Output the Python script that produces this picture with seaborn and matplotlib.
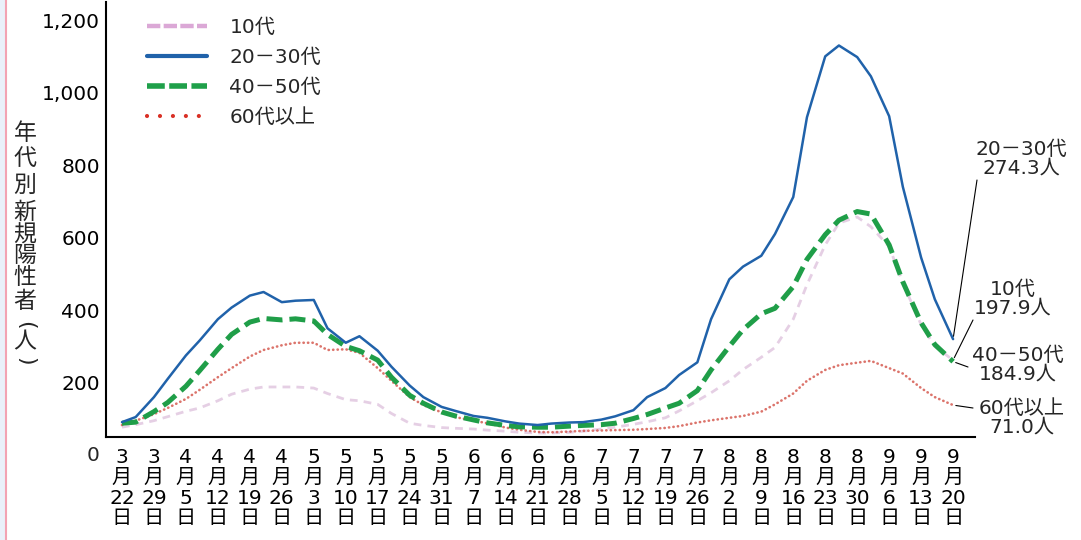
import pandas as pd
import matplotlib
matplotlib.use("Agg")
import matplotlib.pyplot as plt
import seaborn as sns
from matplotlib.lines import Line2D
from matplotlib.patches import Rectangle

# ---------------- data ----------------
dates = ["2021-03-22", "2021-03-25", "2021-03-29", "2021-04-01", "2021-04-05", "2021-04-08",
         "2021-04-12", "2021-04-15", "2021-04-19", "2021-04-22", "2021-04-26", "2021-04-29",
         "2021-05-03", "2021-05-06", "2021-05-10", "2021-05-13", "2021-05-17", "2021-05-20",
         "2021-05-24", "2021-05-27", "2021-05-31", "2021-06-03", "2021-06-07", "2021-06-10",
         "2021-06-14", "2021-06-17", "2021-06-21", "2021-06-24", "2021-06-28", "2021-07-01",
         "2021-07-05", "2021-07-08", "2021-07-12", "2021-07-15", "2021-07-19", "2021-07-22",
         "2021-07-26", "2021-07-29", "2021-08-02", "2021-08-05", "2021-08-09", "2021-08-12",
         "2021-08-16", "2021-08-19", "2021-08-23", "2021-08-26", "2021-08-30", "2021-09-02",
         "2021-09-06", "2021-09-09", "2021-09-13", "2021-09-16", "2021-09-20"]

teens = [77, 84, 95, 106, 121, 130, 150, 168, 182, 188, 188, 188, 185, 170, 153, 150, 140, 115,
         88, 82, 76, 74, 72, 69, 66, 63, 61, 61, 63, 66, 72, 77, 85, 92, 103, 122, 150, 172,
         205, 236, 270, 297, 375, 470, 580, 640, 657, 630, 575, 475, 360, 300, 262]
age20_30 = [91, 105, 160, 210, 275, 316, 375, 407, 440, 450, 422, 426, 428, 350, 310, 328, 288,
            244, 192, 160, 133, 122, 108, 103, 93, 87, 83, 87, 90, 91, 98, 107, 124, 160, 185,
            221, 256, 375, 485, 520, 550, 610, 712, 932, 1100, 1130, 1098, 1045, 935, 740, 545,
            430, 320]
age40_50 = [88, 91, 120, 145, 190, 233, 292, 333, 367, 377, 373, 376, 370, 333, 300, 288, 262,
            215, 165, 143, 119, 108, 97, 89, 82, 78, 77, 77, 80, 82, 84, 88, 101, 112, 130, 143,
            178, 235, 300, 346, 390, 405, 465, 540, 608, 648, 672, 665, 580, 478, 365, 305, 258]
age60plus = [83, 95, 113, 130, 155, 180, 215, 240, 272, 290, 303, 310, 310, 290, 292, 282, 240,
             205, 160, 138, 118, 105, 95, 88, 76, 70, 64, 63, 65, 67, 68, 69, 70, 72, 75, 80, 90,
             96, 103, 108, 120, 140, 170, 205, 235, 248, 255, 260, 240, 225, 185, 160, 138]

series_names = ["10代", "20－30代", "40－50代", "60代以上"]
end_labels = ["10代\n197.9人", "20－30代\n274.3人", "40－50代\n184.9人", "60代以上\n71.0人"]

tick_dates = ["2021-03-22", "2021-03-29", "2021-04-05", "2021-04-12", "2021-04-19", "2021-04-26",
              "2021-05-03", "2021-05-10", "2021-05-17", "2021-05-24", "2021-05-31", "2021-06-07",
              "2021-06-14", "2021-06-21", "2021-06-28", "2021-07-05", "2021-07-12", "2021-07-19",
              "2021-07-26", "2021-08-02", "2021-08-09", "2021-08-16", "2021-08-23", "2021-08-30",
              "2021-09-06", "2021-09-13", "2021-09-20"]
y_ticks = [200, 400, 600, 800, 1000, 1200]
y_ticklabels = ["200", "400", "600", "800", "1,000", "1,200"]
y_label_chars = ["年", "代", "別", "新", "規", "陽", "性", "者", "(", "人", ")"]

# ---------------- frame ----------------
sns.set_theme(style="white")
FAM = ["DejaVu Sans", "Noto Sans CJK JP"]
plt.rcParams["font.family"] = FAM
FS = 14.5

W, H = 1081, 540
fig = plt.figure(figsize=(W / 100, H / 100), dpi=100)
fig.patch.set_facecolor("white")
ax = fig.add_axes([106 / W, 1 - 437 / H, (975 - 106) / W, (437 - 2) / H])
ax.set_facecolor("white")

dt = pd.to_datetime(dates)
df = pd.DataFrame({"date": dt, series_names[0]: teens, series_names[1]: age20_30,
                   series_names[2]: age40_50, series_names[3]: age60plus})
long = df.melt(id_vars="date", var_name="series", value_name="value")

styles = {
    "10代": dict(color="#d5b0d3", linewidth=2.0, linestyle=(0, (2.8, 2.2)), alpha=0.6, zorder=2),
    "60代以上": dict(color="#d0453a", linewidth=1.9, linestyle=(0, (0.1, 1.6)), alpha=0.75,
                  dash_capstyle="round", zorder=3),
    "40－50代": dict(color="#1f9e48", linewidth=3.6, linestyle=(0, (3.2, 1.4)), zorder=4),
    "20－30代": dict(color="#2062aa", linewidth=1.8, linestyle="-", zorder=5),
}
for name in ["10代", "60代以上", "40－50代", "20－30代"]:
    sns.lineplot(data=long[long["series"] == name], x="date", y="value", ax=ax,
                 errorbar=None, legend=False, **styles[name])

t0 = pd.Timestamp(tick_dates[0])
ax.set_xlim(t0 - pd.Timedelta(days=3.5), t0 + pd.Timedelta(days=186.8))
ax.set_ylim(50, 1250)

td = pd.to_datetime(tick_dates)
ax.set_xticks(td)
ax.set_xticklabels([f"{d.month}\n月\n{d.day}\n日" for d in td], fontsize=FS, linespacing=1.08)
ax.set_yticks(y_ticks)
ax.set_yticklabels(y_ticklabels, fontsize=FS)
ax.tick_params(axis="x", length=0, pad=8, colors="black")
ax.tick_params(axis="y", length=0, pad=4.3, colors="black")
ax.set_xlabel("")
ax.set_ylabel("")
ax.text(-6 / 869, 0, "0", transform=ax.get_yaxis_transform(), ha="right", va="center",
        fontsize=FS, clip_on=False)

for s in ["top", "right"]:
    ax.spines[s].set_visible(False)
for s in ["left", "bottom"]:
    ax.spines[s].set_color("black")
    ax.spines[s].set_linewidth(1.5)
ax.grid(False)

# vertical y-label (upright stacked characters; parentheses turned sideways)
yl_pos = [134, 158, 185, 212, 235, 256, 278, 301, 325, 342, 361]
for ch, yy in zip(y_label_chars, yl_pos):
    if ch in "()":
        fig.text(25 / W, 1 - yy / H, ch, ha="center", va="center", fontsize=16,
                 rotation=-90, rotation_mode="anchor")
    else:
        fig.text(25 / W, 1 - yy / H, ch, ha="center", va="center", fontsize=16.5)

# legend
leg_handles = [
    Line2D([], [], color="#dba8d6", linewidth=3.2, linestyle=(0, (3.0, 0.75))),
    Line2D([], [], color="#2062aa", linewidth=3.0, linestyle="-"),
    Line2D([], [], color="#1fa04a", linewidth=4.0, linestyle=(0, (3.2, 0.8))),
    Line2D([], [], color="#d93025", linewidth=3.0, linestyle=(0, (0.01, 3.1)),
           dash_capstyle="round"),
]
ax.legend(leg_handles, series_names, loc="upper left", bbox_to_anchor=(0.047, 0.964),
          frameon=False, fontsize=FS, handlelength=3.0, handletextpad=1.1,
          labelspacing=0.55, borderpad=0, borderaxespad=0)

# end annotations
last_vals = {"10代": teens[-1], "20－30代": age20_30[-1], "40－50代": age40_50[-1],
             "60代以上": age60plus[-1]}
ann_pos = {"20－30代": ((1021, 159), (977, 180)),
           "10代": ((1013, 299), (973, 320)),
           "40－50代": ((1018, 365), (968, 367)),
           "60代以上": ((1022, 418), (973, 408))}
for name, lab in zip(series_names, end_labels):
    (tx, ty), (px, py) = ann_pos[name]
    fig.text(tx / W, 1 - ty / H, lab, ha="center", va="center", fontsize=FS, linespacing=1.0)
    ax.annotate("", xy=(dt[-1], last_vals[name]), xycoords="data",
                xytext=(px / W, 1 - py / H), textcoords="figure fraction",
                arrowprops=dict(arrowstyle="-", color="black", lw=0.8, shrinkA=0, shrinkB=2),
                annotation_clip=False)

# left page border
fig.add_artist(Rectangle((0, 0), 4.5 / W, 1, transform=fig.transFigure,
                         facecolor="#eaf1fa", edgecolor="none"))
fig.add_artist(Line2D([5.5 / W, 5.5 / W], [0, 1], transform=fig.transFigure,
                      color="#f3a3b3", linewidth=1.5))

fig.savefig("out.png", dpi=100, facecolor="white")
